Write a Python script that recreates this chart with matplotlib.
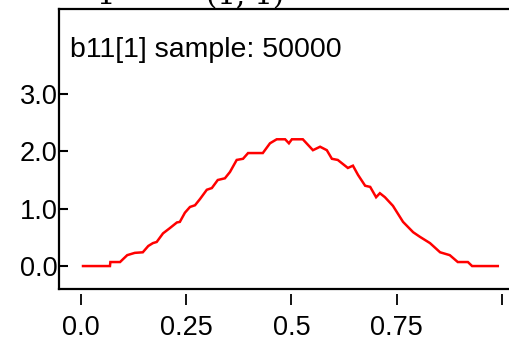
import matplotlib
matplotlib.use("Agg")
import matplotlib.pyplot as plt

# density estimate
xs = [0.005, 0.069, 0.070, 0.093, 0.100, 0.110, 0.128, 0.147, 0.160, 0.171, 0.180, 0.195,
      0.211, 0.228, 0.235, 0.247, 0.259, 0.271, 0.283, 0.299, 0.311, 0.325, 0.342, 0.354,
      0.370, 0.385, 0.397, 0.432, 0.449, 0.465, 0.485, 0.494, 0.501, 0.527, 0.551, 0.568,
      0.584, 0.596, 0.610, 0.634, 0.646, 0.658, 0.675, 0.687, 0.701, 0.710, 0.722, 0.741,
      0.765, 0.789, 0.805, 0.829, 0.853, 0.876, 0.895, 0.919, 0.929, 0.990]
dens = [0.00, 0.00, 0.07, 0.07, 0.12, 0.19, 0.23, 0.24, 0.35, 0.40, 0.42, 0.57,
        0.66, 0.76, 0.77, 0.93, 1.03, 1.06, 1.17, 1.33, 1.36, 1.50, 1.53, 1.64,
        1.85, 1.87, 1.97, 1.97, 2.14, 2.21, 2.21, 2.14, 2.21, 2.21, 2.02, 2.08,
        2.02, 1.87, 1.85, 1.71, 1.75, 1.59, 1.40, 1.38, 1.20, 1.27, 1.20, 1.05,
        0.77, 0.59, 0.51, 0.40, 0.24, 0.19, 0.07, 0.07, 0.00, 0.00]
xticks = [0.0, 0.25, 0.5, 0.75, 1.0]
xlabels = ["0.0", "0.25", "0.5", "0.75", ""]   # the 1.0 label falls outside the picture
yticks = [0.0, 1.0, 2.0, 3.0]
ylabels = ["0.0", "1.0", "2.0", "3.0"]
title = "b11[1] sample: 50000"

plt.rcParams["font.family"] = ["Liberation Sans", "DejaVu Sans"]

W, H = 510, 344
fig = plt.figure(figsize=(W / 100, H / 100), dpi=100)
ax = fig.add_axes([59 / W, (H - 289) / H, (W - 59) / W, (289 - 8.5) / H])

ax.plot(xs, dens, color="#ff0000", lw=1.8, solid_joinstyle="miter")
ax.set_xlim(-0.052, 1.019)
ax.set_ylim(-0.40, 4.49)

for s in ("left", "top", "bottom"):
    ax.spines[s].set_linewidth(1.6)
ax.spines["right"].set_visible(False)

ax.set_yticks(yticks, ylabels)
ax.tick_params(axis="y", direction="in", length=6.5, width=1.5, pad=1, labelsize=19.5)
ax.set_xticks([])

# x ticks sit a little below the bottom frame line
sec = ax.secondary_xaxis(-0.018)
sec.spines["bottom"].set_visible(False)
sec.set_xticks(xticks, xlabels)
sec.tick_params(axis="x", direction="out", length=8, width=1.3, pad=7, labelsize=19.5)

ax.text((70 - 59) / (W - 59), (289 - 57) / (289 - 8.5), title, transform=ax.transAxes,
        fontsize=20.5, va="baseline", ha="left")

# fragments of the text cut off above the chart
fig.text(96 / W, 1 - 4 / H, "1", family="DejaVu Serif", fontsize=21, va="baseline")
fig.text(206 / W, 1 - 4 / H, "(1, 1)", family="DejaVu Serif", fontsize=21, va="baseline")

fig.savefig("out.png", dpi=100)
